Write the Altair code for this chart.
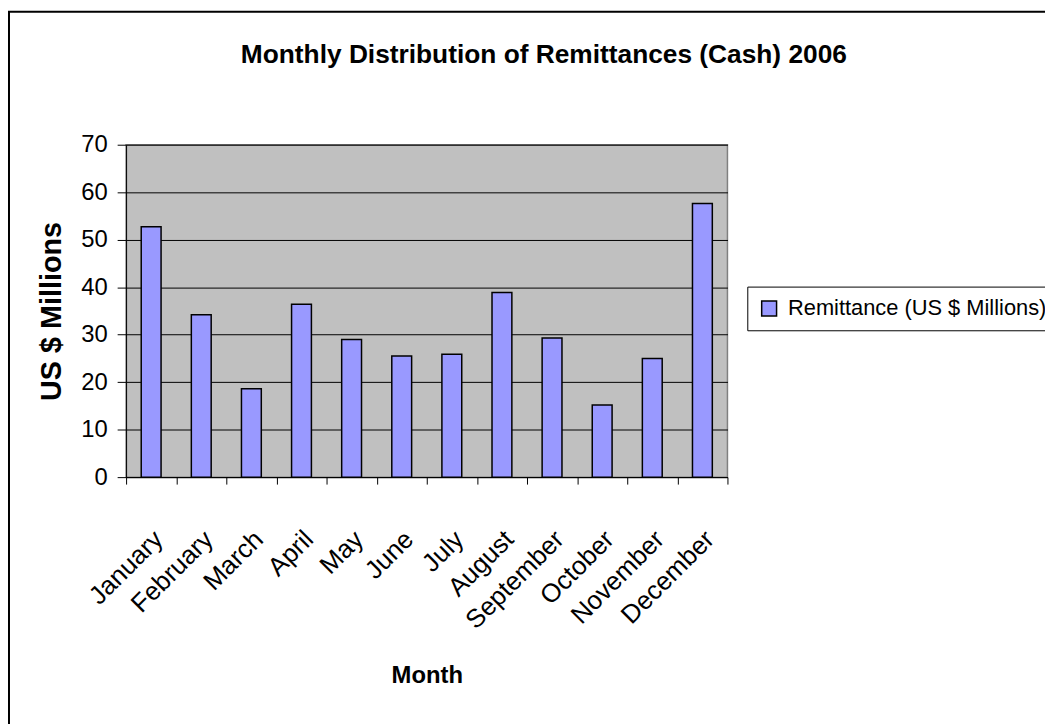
import altair as alt
import pandas as pd

months = ["January", "February", "March", "April", "May", "June", "July",
          "August", "September", "October", "November", "December"]
values = [52.7, 34.2, 18.6, 36.4, 29.0, 25.5, 25.9, 38.9, 29.3, 15.2, 25.0, 57.6]
series = "Remittance (US $ Millions)"
y_ticks = [0, 10, 20, 30, 40, 50, 60, 70]

FONT = "Liberation Sans"

df = pd.DataFrame({"Month": months, "Value": values, "Series": [series] * len(months)})

bars = alt.Chart(df).mark_bar(
    width=20, stroke="black", strokeWidth=1.5
).encode(
    x=alt.X("Month:N", sort=months,
            scale=alt.Scale(paddingInner=0, paddingOuter=0),
            axis=alt.Axis(
                title="Month", titleFont=FONT, titleFontSize=24, titleFontWeight="bold",
                titleColor="black", titleY=207, titleBaseline="alphabetic",
                labelFont=FONT, labelFontSize=26, labelColor="black",
                labelAngle=-45, labelAlign="right", labelBaseline="top",
                labelPadding=42, labelOffset=-2, tickBand="extent", tickSize=7,
                tickColor="black", domainColor="black", grid=False, labelOverlap=False)),
    y=alt.Y("Value:Q",
            scale=alt.Scale(domain=[0, 70], nice=False),
            axis=alt.Axis(
                title="US $ Millions", titleFont=FONT, titleFontSize=29, titleFontWeight="bold",
                titleColor="black", titleX=-66, titleY=167.5, titleAngle=-90,
                titleBaseline="alphabetic", titleAlign="center",
                values=y_ticks, labelFont=FONT, labelFontSize=24, labelColor="black",
                labelPadding=10, tickSize=9, tickColor="black", domainColor="black",
                gridColor="black", gridWidth=1, gridOpacity=1)),
    color=alt.Color("Series:N",
                    scale=alt.Scale(domain=[series], range=["#9999FF"]),
                    legend=alt.Legend(
                        title=None, orient="none", legendX=626, legendY=143,
                        labelFont=FONT, labelFontSize=22, labelColor="black",
                        labelLimit=600, symbolType="square", symbolSize=225,
                        symbolStrokeColor="black", symbolStrokeWidth=1.5,
                        symbolFillColor="#9999FF", labelOffset=8,
                        strokeColor="black", fillColor="white", padding=11,
                        cornerRadius=0)),
)

frame = alt.Chart(pd.DataFrame({"f": [0]})).mark_rect(
    fill=None, stroke="black", strokeWidth=2
).encode(
    x=alt.value(-118), x2=alt.value(940), y=alt.value(-134), y2=alt.value(600)
)

chart = alt.layer(bars, frame).properties(
    width=606, height=335,
    title=alt.TitleParams(
        "Monthly Distribution of Remittances (Cash) 2006",
        font=FONT, fontSize=26.5, fontWeight="bold", color="black",
        anchor="middle", dx=118, offset=-58),
    autosize=alt.AutoSizeParams(type="none"),
    padding={"left": 119, "top": 135, "right": 320, "bottom": 246},
).configure(background="white").configure_view(
    fill="#C0C0C0", stroke="#808080", strokeWidth=1.5
)

chart.save("out.html", embed_options={"renderer": "svg", "actions": False})
